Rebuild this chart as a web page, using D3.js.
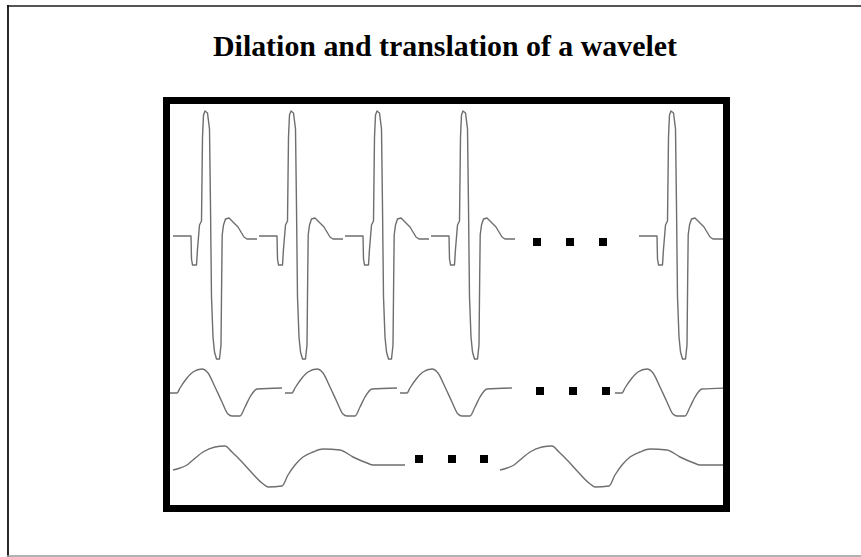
<!DOCTYPE html>
<html>
<head>
<meta charset="utf-8">
<script src="https://cdn.jsdelivr.net/npm/d3@7/dist/d3.min.js"></script>
<style>
  html, body { margin: 0; padding: 0; background: #fff; }
  svg { display: block; }
</style>
</head>
<body>
<svg id="chart" width="861" height="557"></svg>
<script>
// ---------------- DATA ----------------
const titleText = "Dilation and translation of a wavelet";

// Mother wavelet samples for each dilation level: [time sample, amplitude]
const row1Shape = [[2,1],[20,1],[20.5,-22],[21.5,-28],[25.5,-28],[26.5,-12],[28.5,12],[30.5,16],[31.5,100],[32.5,122],[34,126],[36.5,124],[38.5,108],[39.5,30],[40.5,-60],[42,-100],[43.5,-115],[45.5,-122],[48.5,-122],[50,-108],[50.7,-40],[51.2,2],[52.5,12],[54.5,18],[58,19],[61,16],[64,13],[67,10],[70,5],[73,0],[76,-2],[86,-2]];
const row2Shape = [[0,0],[7,0],[10,5],[17,15],[23,21],[32,24],[38,20],[45,6],[52,-9],[58,-21],[62,-23],[70,-23],[75,-14],[80,-4],[87,4],[112,5]];
const row3Shape = [[0,-3],[7,-1],[14,2],[20,7],[30,15],[42,20],[52,21],[59,15],[69,5],[79,-6],[89,-16],[95,-20],[109,-19],[115,-8],[122,2],[130,10],[140,15],[150,18],[167,17],[180,10],[194,4],[200,2],[232,2]];

// Translations (start sample) of each wavelet copy per row
const row1Shifts = [1, 87, 173, 259, 467];
const row2Shifts = [0, 115, 230, 445];
const row3Shifts = [3, 330];

// Baseline level of each row
const rowBaselines = [268, 112, 38];

// Ellipsis dots: time samples and level per row
const row1Dots = [367, 400, 433];
const row2Dots = [370, 403, 436];
const row3Dots = [249, 282, 314];
const dotLevels = [263, 114, 46];

// ---------------- CHART ----------------
const svg = d3.select("#chart");
const W = 861, H = 557;

// outer frame
svg.append("line").attr("x1", 7).attr("x2", W).attr("y1", 6).attr("y2", 6)
  .attr("stroke", "#555").attr("stroke-width", 1.8);
svg.append("line").attr("x1", 8).attr("x2", 8).attr("y1", 5).attr("y2", H)
  .attr("stroke", "#111").attr("stroke-width", 1.8);
svg.append("line").attr("x1", 7).attr("x2", W).attr("y1", 556).attr("y2", 556)
  .attr("stroke", "#999").attr("stroke-width", 1.5);

// title
svg.append("text")
  .attr("x", 213).attr("y", 56)
  .attr("font-family", "'Liberation Serif', 'Times New Roman', serif")
  .attr("font-weight", "bold")
  .attr("font-size", 30)
  .attr("textLength", 464)
  .attr("lengthAdjust", "spacingAndGlyphs")
  .attr("fill", "#000")
  .text(titleText);

// plot area
const inner = { left: 170, right: 723, top: 104, bottom: 505 };
const x = d3.scaleLinear().domain([0, 553]).range([inner.left, inner.right]);
const y = d3.scaleLinear().domain([0, 401]).range([inner.bottom, inner.top]);

svg.append("defs").append("clipPath").attr("id", "clip")
  .append("rect").attr("x", inner.left).attr("y", inner.top)
  .attr("width", inner.right - inner.left).attr("height", inner.bottom - inner.top);

const g = svg.append("g").attr("clip-path", "url(#clip)");

const rows = [
  { shape: row1Shape, shifts: row1Shifts, curve: d3.curveLinear },
  { shape: row2Shape, shifts: row2Shifts, curve: d3.curveMonotoneX },
  { shape: row3Shape, shifts: row3Shifts, curve: d3.curveMonotoneX }
];

rows.forEach((row, ri) => {
  const base = rowBaselines[ri];
  const line = d3.line()
    .x(d => x(d.t))
    .y(d => y(base + d.v))
    .curve(row.curve);
  row.shifts.forEach(s => {
    const pts = row.shape.map(([t, v]) => ({ t: s + t, v }));
    g.append("path")
      .attr("d", line(pts))
      .attr("fill", "none")
      .attr("stroke", "#6e6e6e")
      .attr("stroke-width", 1.4)
      .attr("stroke-linejoin", "round");
  });
});

// ellipsis dots
[row1Dots, row2Dots, row3Dots].forEach((dots, ri) => {
  g.selectAll(null).data(dots).enter().append("rect")
    .attr("x", d => x(d) - 4)
    .attr("y", y(dotLevels[ri]) - 4)
    .attr("width", 8).attr("height", 8)
    .attr("fill", "#000");
});

// thick black box
svg.append("rect")
  .attr("x", 166.5).attr("y", 100.5)
  .attr("width", 560).attr("height", 408)
  .attr("fill", "none")
  .attr("stroke", "#000")
  .attr("stroke-width", 7);
</script>
</body>
</html>
